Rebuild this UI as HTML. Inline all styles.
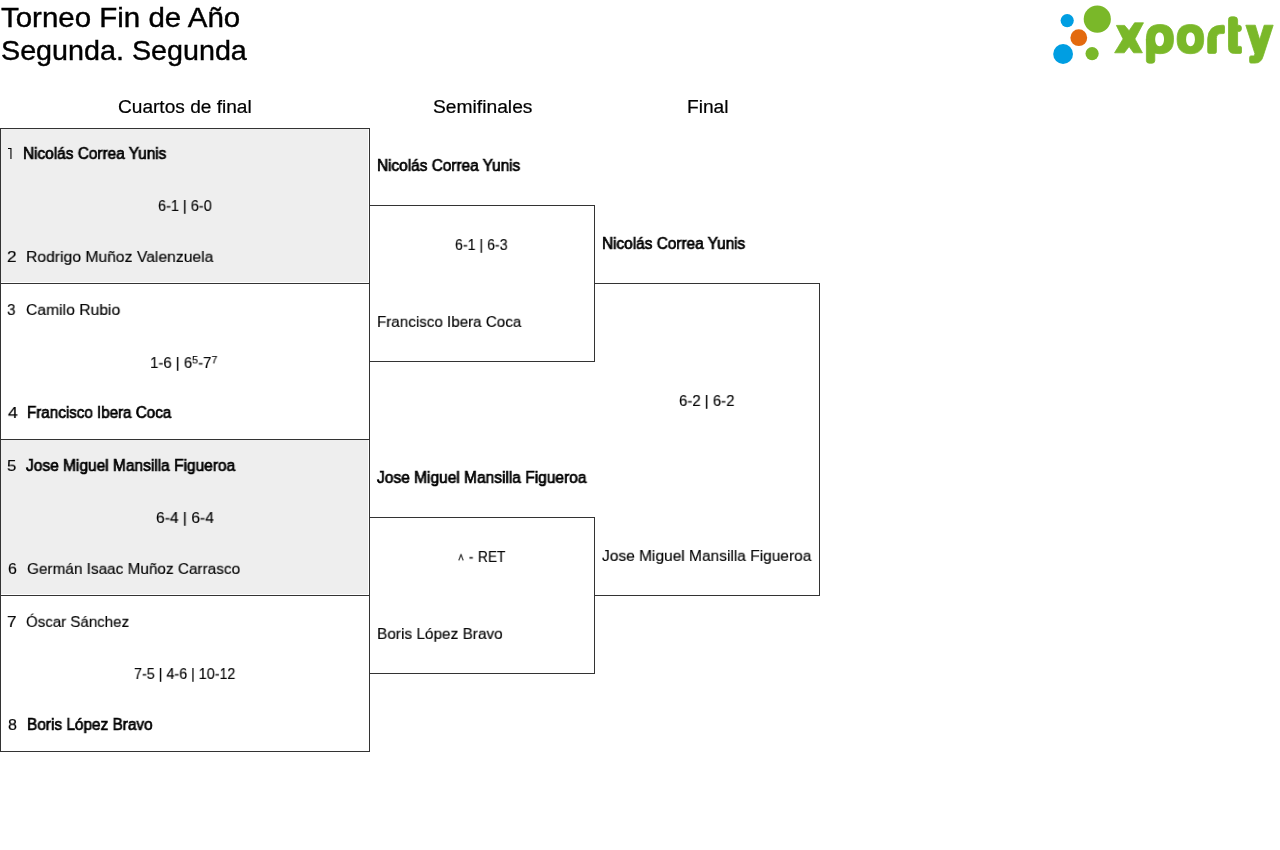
<!DOCTYPE html>
<html><head><meta charset="utf-8"><style>
html,body{margin:0;padding:0;background:#fff}
body{position:relative;width:1280px;height:850px;overflow:hidden;font-family:"Liberation Sans",sans-serif;color:#000}
.t{position:absolute;white-space:nowrap;line-height:1;transform-origin:0 0;will-change:transform}
.ln{position:absolute;background:#333}
.g{position:absolute;background:#eee}
sup{font-size:11.5px;vertical-align:baseline;position:relative;top:-5px;line-height:0}
.car{vertical-align:1.5px}
</style></head><body>
<div class="g" style="left:1px;top:129px;width:367px;height:153px"></div>
<div class="g" style="left:1px;top:440px;width:367px;height:154px"></div>
<div class="ln" style="left:0;top:128px;width:1px;height:624px"></div>
<div class="ln" style="left:369px;top:128px;width:1px;height:624px"></div>
<div class="ln" style="left:0;top:128px;width:370px;height:1px"></div>
<div class="ln" style="left:0;top:283px;width:370px;height:1px"></div>
<div class="ln" style="left:0;top:439px;width:370px;height:1px"></div>
<div class="ln" style="left:0;top:595px;width:370px;height:1px"></div>
<div class="ln" style="left:0;top:751px;width:370px;height:1px"></div>
<div class="ln" style="left:369px;top:205px;width:226px;height:1px"></div>
<div class="ln" style="left:594px;top:205px;width:1px;height:157px"></div>
<div class="ln" style="left:369px;top:361px;width:226px;height:1px"></div>
<div class="ln" style="left:369px;top:517px;width:226px;height:1px"></div>
<div class="ln" style="left:594px;top:517px;width:1px;height:157px"></div>
<div class="ln" style="left:369px;top:673px;width:226px;height:1px"></div>
<div class="ln" style="left:594px;top:283px;width:226px;height:1px"></div>
<div class="ln" style="left:819px;top:283px;width:1px;height:313px"></div>
<div class="ln" style="left:594px;top:595px;width:226px;height:1px"></div>
<svg style="position:absolute;left:0;top:140px" width="20" height="20" viewBox="0 140 20 20"><path d="M8,147.9 H11.5 V159 H10.4 V149 H8 Z" fill="#000"/></svg>

<div class="t" id="t1" style="left:0.71px;top:4.00px;font-size:28px;-webkit-text-stroke:0.4px #000;transform:scaleX(1.0524);">Torneo Fin de Año</div>
<div class="t" id="t2" style="left:1.12px;top:37.00px;font-size:28px;-webkit-text-stroke:0.4px #000;transform:scaleX(1.0252);">Segunda. Segunda</div>
<div class="t" id="h1" style="left:118.35px;top:98.00px;font-size:18px;-webkit-text-stroke:0.2px #000;transform:scaleX(1.0604);">Cuartos de final</div>
<div class="t" id="h2" style="left:433.18px;top:98.00px;font-size:18px;-webkit-text-stroke:0.2px #000;transform:scaleX(1.0689);">Semifinales</div>
<div class="t" id="h3" style="left:687.00px;top:98.00px;font-size:18px;-webkit-text-stroke:0.2px #000;transform:scaleX(1.0640);">Final</div>
<div class="t" id="p1" style="left:23.34px;top:146.00px;font-size:16px;-webkit-text-stroke:0.7px #000;transform:scaleX(0.9614);">Nicolás Correa Yunis</div>
<div class="t" id="s1" style="left:158.11px;top:198.00px;font-size:16px;-webkit-text-stroke:0.15px #000;transform-origin:0 13px;transform:scale(0.9054,0.92);">6-1 | 6-0</div>
<div class="t" id="n2" style="left:6.82px;top:249.00px;font-size:16px;-webkit-text-stroke:0.15px #000;transform-origin:0 13px;transform:scale(1.0843,0.92);">2</div>
<div class="t" id="p2" style="left:26.18px;top:249.00px;font-size:16px;-webkit-text-stroke:0.15px #000;transform-origin:0 13px;transform:scale(0.9813,0.92);">Rodrigo Muñoz Valenzuela</div>
<div class="t" id="n3" style="left:7.30px;top:302.00px;font-size:16px;-webkit-text-stroke:0.15px #000;transform-origin:0 13px;transform:scale(0.9484,0.92);">3</div>
<div class="t" id="p3" style="left:25.63px;top:302.00px;font-size:16px;-webkit-text-stroke:0.15px #000;transform-origin:0 13px;transform:scale(0.9806,0.92);">Camilo Rubio</div>
<div class="t" id="s2" style="left:150.32px;top:355.00px;font-size:16px;-webkit-text-stroke:0.15px #000;transform-origin:0 13px;transform:scale(0.9346,0.92);">1-6 | 6<sup>5</sup>-7<sup>7</sup></div>
<div class="t" id="n4" style="left:7.77px;top:405.00px;font-size:16px;-webkit-text-stroke:0.15px #000;transform-origin:0 13px;transform:scale(1.1166,0.92);">4</div>
<div class="t" id="p4" style="left:27.41px;top:405.00px;font-size:16px;-webkit-text-stroke:0.7px #000;transform:scaleX(0.9480);">Francisco Ibera Coca</div>
<div class="t" id="n5" style="left:6.76px;top:458.00px;font-size:16px;-webkit-text-stroke:0.15px #000;transform-origin:0 13px;transform:scale(1.0494,0.92);">5</div>
<div class="t" id="p5" style="left:26.33px;top:458.00px;font-size:16px;-webkit-text-stroke:0.7px #000;transform:scaleX(0.9680);">Jose Miguel Mansilla Figueroa</div>
<div class="t" id="s3" style="left:155.79px;top:510.00px;font-size:16px;-webkit-text-stroke:0.15px #000;transform-origin:0 13px;transform:scale(0.9745,0.92);">6-4 | 6-4</div>
<div class="t" id="n6" style="left:8.30px;top:561.00px;font-size:16px;-webkit-text-stroke:0.15px #000;transform-origin:0 13px;transform:scale(1.0000,0.92);">6</div>
<div class="t" id="p6" style="left:26.72px;top:561.00px;font-size:16px;-webkit-text-stroke:0.15px #000;transform-origin:0 13px;transform:scale(0.9583,0.92);">Germán Isaac Muñoz Carrasco</div>
<div class="t" id="n7" style="left:7.40px;top:614.00px;font-size:16px;-webkit-text-stroke:0.15px #000;transform-origin:0 13px;transform:scale(1.0812,0.92);">7</div>
<div class="t" id="p7" style="left:25.75px;top:614.00px;font-size:16px;-webkit-text-stroke:0.15px #000;transform-origin:0 13px;transform:scale(0.9419,0.92);">Óscar Sánchez</div>
<div class="t" id="s4" style="left:134.06px;top:666.00px;font-size:16px;-webkit-text-stroke:0.15px #000;transform-origin:0 13px;transform:scale(0.8953,0.92);">7-5 | 4-6 | 10-12</div>
<div class="t" id="n8" style="left:7.50px;top:717.00px;font-size:16px;-webkit-text-stroke:0.15px #000;transform-origin:0 13px;transform:scale(1.0083,0.92);">8</div>
<div class="t" id="p8" style="left:26.96px;top:717.00px;font-size:16px;-webkit-text-stroke:0.7px #000;transform:scaleX(0.9614);">Boris López Bravo</div>
<div class="t" id="q1" style="left:377.15px;top:158.00px;font-size:16px;-webkit-text-stroke:0.7px #000;transform:scaleX(0.9607);">Nicolás Correa Yunis</div>
<div class="t" id="r1" style="left:455.15px;top:237.00px;font-size:16px;-webkit-text-stroke:0.15px #000;transform-origin:0 13px;transform:scale(0.8860,0.92);">6-1 | 6-3</div>
<div class="t" id="q2" style="left:376.98px;top:314.00px;font-size:16px;-webkit-text-stroke:0.15px #000;transform-origin:0 13px;transform:scale(0.9485,0.92);">Francisco Ibera Coca</div>
<div class="t" id="q3" style="left:377.31px;top:470.00px;font-size:16px;-webkit-text-stroke:0.7px #000;transform:scaleX(0.9692);">Jose Miguel Mansilla Figueroa</div>
<div class="t" id="r2" style="left:458.03px;top:549.00px;font-size:16px;-webkit-text-stroke:0.15px #000;transform-origin:0 13px;transform:scale(0.8515,0.92);"><span style="word-spacing:1.2px"><svg class="car" width="7" height="8" viewBox="0 0 7 8"><polyline points="0.8,7.2 3.5,0.8 6.2,7.2" fill="none" stroke="#000" stroke-width="1.1"/></svg> - RET</span></div>
<div class="t" id="q4" style="left:376.60px;top:626.00px;font-size:16px;-webkit-text-stroke:0.15px #000;transform-origin:0 13px;transform:scale(0.9620,0.92);">Boris López Bravo</div>
<div class="t" id="f1" style="left:602.15px;top:236.00px;font-size:16px;-webkit-text-stroke:0.7px #000;transform:scaleX(0.9607);">Nicolás Correa Yunis</div>
<div class="t" id="f2" style="left:679.31px;top:393.00px;font-size:16px;-webkit-text-stroke:0.15px #000;transform-origin:0 13px;transform:scale(0.9346,0.92);">6-2 | 6-2</div>
<div class="t" id="f3" style="left:602.19px;top:548.00px;font-size:16px;-webkit-text-stroke:0.15px #000;transform-origin:0 13px;transform:scale(0.9688,0.92);">Jose Miguel Mansilla Figueroa</div>
<svg style="position:absolute;left:1040px;top:0;overflow:visible" width="240" height="80" viewBox="1040 0 240 80">
<circle cx="1067.2" cy="20.6" r="6.6" fill="#009ee2"/>
<circle cx="1097.3" cy="19.1" r="13.6" fill="#7ab829"/>
<circle cx="1078.8" cy="37.7" r="8.4" fill="#e36a0e"/>
<circle cx="1063.1" cy="54.0" r="9.9" fill="#009ee2"/>
<circle cx="1092.1" cy="53.6" r="6.6" fill="#7ab829"/>
<g fill="#7ab829" stroke="#7ab829" stroke-width="0.8" stroke-linejoin="round">
<path d="M1116.4,25.4 L1124.6,25.4 L1129.1,30.8 L1134.6,22.8 L1143.5,22.8 L1134.9,38.9 L1142.4,52.8 L1133.6,52.8 L1129.1,46.6 L1124.3,52.8 L1114.6,52.8 L1123.1,38.9 Z"/>
<path d="M1159.95,24.50 C1169.16,24.50 1173.50,29.17 1173.50,39.10 C1173.50,49.03 1169.16,53.70 1159.95,53.70 C1150.74,53.70 1146.40,49.03 1146.40,39.10 C1146.40,29.17 1150.74,24.50 1159.95,24.50 Z"/>
<path d="M1146.4,39 L1154.8,39 L1154.8,60.5 Q1154.8,63.2 1152,63.2 L1149.2,63.2 Q1146.4,63.2 1146.4,60.5 Z"/>
<path d="M1190.40,24.50 C1199.44,24.50 1203.70,29.17 1203.70,39.10 C1203.70,49.03 1199.44,53.70 1190.40,53.70 C1181.36,53.70 1177.10,49.03 1177.10,39.10 C1177.10,29.17 1181.36,24.50 1190.40,24.50 Z"/>
<path d="M1207.7,38.5 Q1208.5,25.2 1222,25.2 L1223.2,25.2 Q1224.5,25.2 1224.5,26.5 L1224.5,32.4 Q1224.5,33.6 1223.2,33.6 L1221,33.6 Q1216.4,33.6 1216.4,38.6 L1216.4,51.8 Q1216.4,53.4 1214.8,53.4 L1209.3,53.4 Q1207.7,53.4 1207.7,51.8 Z"/>
<path d="M1228.5,19.6 Q1228.5,16.8 1231.3,16.8 L1234.2,16.8 Q1237.6,16.8 1237.6,20.2 L1237.6,25.2 L1238.8,25.2 Q1241.5,25.2 1241.5,28.4 Q1241.5,31.5 1238.8,31.5 L1237.6,31.5 L1237.6,46.4 L1240.3,46.4 Q1241.5,46.4 1241.5,47.6 L1241.5,52.2 Q1241.5,53.4 1240.3,53.4 L1234.5,53.4 Q1228.5,53.4 1228.5,47.4 Z"/>
<path d="M1245.8,25.2 L1255.3,25.2 L1259.7,39.8 L1264.2,25.2 L1273.2,25.2 L1263.2,56 Q1261.4,63.1 1255,63.1 L1251,63.1 Q1249.6,63.1 1249.6,61.6 L1249.6,57.4 Q1249.6,55.9 1251,55.9 L1253.4,55.9 Q1255,55.9 1254.9,53.6 Z"/>
</g>
<path fill="#fff" d="M1159.60,32.50 C1162.33,32.50 1164.00,35.10 1164.00,39.35 C1164.00,43.60 1162.33,46.20 1159.60,46.20 C1156.87,46.20 1155.20,43.60 1155.20,39.35 C1155.20,35.10 1156.87,32.50 1159.60,32.50 Z"/>
<path fill="#fff" d="M1190.50,32.50 C1193.23,32.50 1194.90,35.10 1194.90,39.35 C1194.90,43.60 1193.23,46.20 1190.50,46.20 C1187.77,46.20 1186.10,43.60 1186.10,39.35 C1186.10,35.10 1187.77,32.50 1190.50,32.50 Z"/>
</svg>

</body></html>
